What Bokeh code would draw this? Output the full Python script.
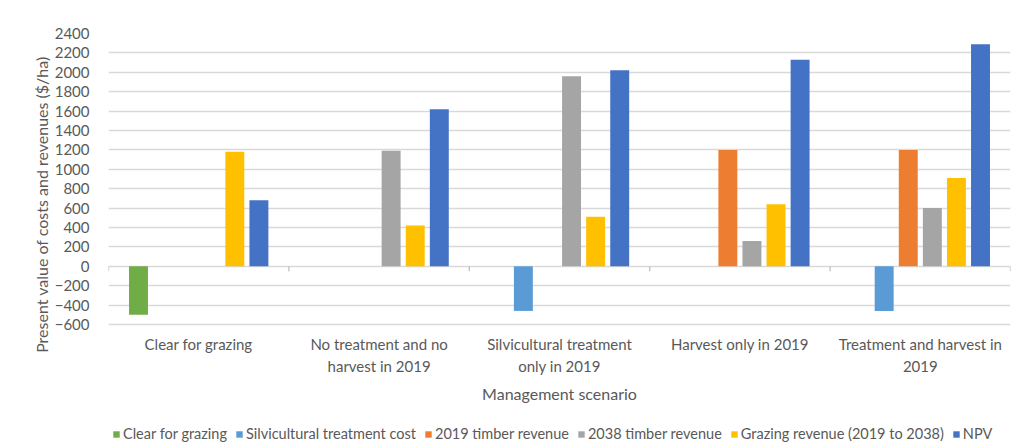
from bokeh.plotting import figure
from bokeh.models import (ColumnDataSource, FactorRange, Range1d, Legend, LegendItem, Label,
                          FixedTicker)
from bokeh.core.properties import value
from bokeh.transform import dodge
from bokeh.embed import file_html
from bokeh.resources import INLINE

categories = ["Clear for grazing", "No treatment and no\nharvest in 2019",
              "Silvicultural treatment\nonly in 2019", "Harvest only in 2019",
              "Treatment and harvest in\n2019"]
series_names = ["Clear for grazing", "Silvicultural treatment cost", "2019 timber revenue",
                "2038 timber revenue", "Grazing revenue (2019 to 2038)", "NPV"]
clear_for_grazing = [-500, 0, 0, 0, 0]
silvicultural_cost = [0, 0, -460, 0, -460]
timber_2019 = [0, 0, 0, 1200, 1200]
timber_2038 = [0, 1190, 1960, 260, 600]
grazing_revenue = [1180, 420, 510, 640, 910]
npv = [680, 1620, 2020, 2130, 2290]
y_ticks = list(range(-600, 2401, 200))
colors = ["#70AD47", "#5B9BD5", "#ED7D31", "#A5A5A5", "#FFC000", "#4472C4"]

series_values = [clear_for_grazing, silvicultural_cost, timber_2019, timber_2038,
                 grazing_revenue, npv]

FONT = "Lato"
TXT = "#595959"

# layout: value axis spans 2400 (33 px) .. -600 (324 px); the frame runs on to the bottom edge
W, H = 1014, 443
TOP_PX, AXIS_BOTTOM_PX = 33, 324
DATA_PER_PX = (2400 - (-600)) / (AXIS_BOTTOM_PX - TOP_PX)


def px_to_y(py):
    return 2400 - (py - TOP_PX) * DATA_PER_PX


src = ColumnDataSource(dict(cat=categories,
                            s0=clear_for_grazing, s1=silvicultural_cost, s2=timber_2019,
                            s3=timber_2038, s4=grazing_revenue, s5=npv))

p = figure(width=W, height=H, x_range=FactorRange(*categories, range_padding=0),
           y_range=Range1d(px_to_y(H), 2400), output_backend="svg", toolbar_location=None,
           x_axis_location=None,
           min_border_left=108, min_border_right=4, min_border_top=TOP_PX, min_border_bottom=0)
p.outline_line_color = None
p.background_fill_color = "white"
p.border_fill_color = "white"

pitch = 0.1335
width = 0.105
items = []
for i, (name, col) in enumerate(zip(series_names, colors)):
    r = p.vbar(x=dodge("cat", (i - 2.5) * pitch, range=p.x_range), top="s%d" % i, bottom=0,
               width=width, source=src, fill_color=col, line_color=None)
    items.append(LegendItem(label=name, renderers=[r]))

# small category tick marks on the zero line
p.segment(x0=dodge("cat", -0.5, range=p.x_range), x1=dodge("cat", -0.5, range=p.x_range),
          y0=0, y1=-50, source=ColumnDataSource(dict(cat=categories)),
          line_color="#BFBFBF", line_width=1.3)
p.segment(x0=dodge("cat", 0.5, range=p.x_range), x1=dodge("cat", 0.5, range=p.x_range),
          y0=0, y1=-50, source=ColumnDataSource(dict(cat=categories[-1:])),
          line_color="#BFBFBF", line_width=1.3)

# value axis
p.yaxis.ticker = FixedTicker(ticks=y_ticks)
p.yaxis.axis_line_color = None
p.yaxis.major_tick_line_color = None
p.yaxis.minor_tick_line_color = None
p.yaxis.major_label_standoff = 13
p.yaxis.major_label_text_font = FONT
p.yaxis.major_label_text_font_size = "15px"
p.yaxis.major_label_text_color = TXT
# leading wide spaces move the visible title up from the frame centre
p.yaxis.axis_label = "\u2003\u2003\u2003\u2003\u2003\u2002Present value of costs and revenues ($/ha)"
p.yaxis.axis_label_text_font = FONT
p.yaxis.axis_label_text_font_size = "16px"
p.yaxis.axis_label_text_font_style = "normal"
p.yaxis.axis_label_text_color = TXT
p.yaxis.axis_label_standoff = 1

p.xgrid.grid_line_color = None
p.ygrid.grid_line_color = "#D9D9D9"
p.ygrid.grid_line_width = 1.3

# category labels (below the value axis)
p.text(x="cat", y=px_to_y(334), text="cat", source=ColumnDataSource(dict(cat=categories)),
       text_align="center", text_baseline="top", text_font=value(FONT),
       text_font_size="15px", text_color=TXT, text_line_height=1.25)

# category axis title
p.add_layout(Label(x=len(categories) / 2, y=px_to_y(393), text="Management scenario",
                   text_align="center", text_baseline="middle", text_font=FONT,
                   text_font_size="16px", text_color=TXT))

legend = Legend(items=items, orientation="horizontal", location=(4, 1),
                glyph_width=8, glyph_height=8, label_standoff=3, spacing=8,
                padding=0, margin=0, border_line_color=None, background_fill_alpha=0,
                label_text_font=FONT, label_text_font_size="14.5px", label_text_color=TXT,
                label_height=16)
p.add_layout(legend, "center")

open("out.html", "w").write(file_html(p, INLINE))
